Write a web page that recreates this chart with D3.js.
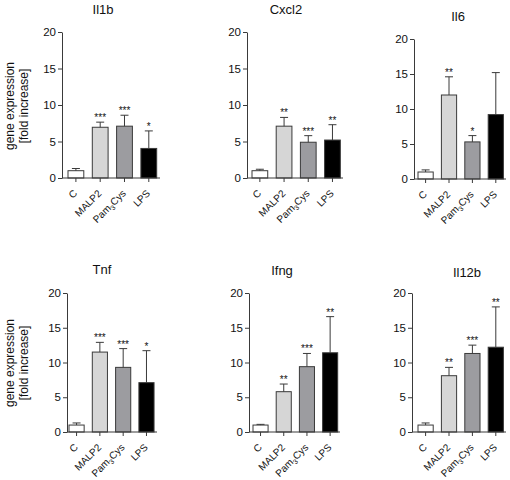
<!DOCTYPE html>
<html><head><meta charset="utf-8">
<script src="https://cdn.jsdelivr.net/npm/d3@7/dist/d3.min.js"></script>
<style>body{margin:0;background:#fff}svg{display:block}text{font-family:"Liberation Sans",Arial,sans-serif;fill:#111}</style>
</head><body><svg id="c" width="510" height="480"></svg>
<script>
// ---- data ----
const genes = ["Il1b", "Cxcl2", "Il6", "Tnf", "Ifng", "Il12b"];
const categories = ["C", "MALP2", "Pam3Cys", "LPS"];
const yTicks = [0, 5, 10, 15, 20];
const meanIl1b  = [1.0, 6.95, 7.1, 4.05];
const meanCxcl2 = [1.0, 7.1, 4.9, 5.2];
const meanIl6   = [1.0, 12.0, 5.3, 9.2];
const meanTnf   = [1.0, 11.5, 9.3, 7.1];
const meanIfng  = [1.0, 5.8, 9.4, 11.4];
const meanIl12b = [1.0, 8.1, 11.3, 12.2];
const errIl1b  = [0.3, 0.7, 1.5, 2.4];
const errCxcl2 = [0.2, 1.2, 0.9, 2.1];
const errIl6   = [0.3, 2.6, 0.9, 6.0];
const errTnf   = [0.3, 1.4, 2.7, 4.6];
const errIfng  = [0.1, 1.1, 1.9, 5.2];
const errIl12b = [0.3, 1.2, 1.2, 5.8];
const starsIl1b  = ["", "***", "***", "*"];
const starsCxcl2 = ["", "**", "***", "**"];
const starsIl6   = ["", "**", "*", ""];
const starsTnf   = ["", "***", "***", "*"];
const starsIfng  = ["", "**", "***", "**"];
const starsIl12b = ["", "**", "***", "**"];
const yLabel = ["gene expression", "[fold increase]"];

const means = [meanIl1b, meanCxcl2, meanIl6, meanTnf, meanIfng, meanIl12b];
const errs = [errIl1b, errCxcl2, errIl6, errTnf, errIfng, errIl12b];
const stars = [starsIl1b, starsCxcl2, starsIl6, starsTnf, starsIfng, starsIl12b];

// ---- layout ----
const layout = [
  {ax: 62,  bs: 68,  step: 24.3, y0: 178, y20: 32,  end: 160, tx: 103, ty: 14},
  {ax: 247, bs: 252, step: 24.2, y0: 178, y20: 32,  end: 343, tx: 286, ty: 14},
  {ax: 414, bs: 418, step: 23.4, y0: 179, y20: 39,  end: 506, tx: 458, ty: 21},
  {ax: 67,  bs: 69,  step: 23.3, y0: 432, y20: 293, end: 157, tx: 102, ty: 274},
  {ax: 249, bs: 253, step: 23.2, y0: 432, y20: 293, end: 340, tx: 282, ty: 275},
  {ax: 412, bs: 418, step: 23.4, y0: 432, y20: 293, end: 506, tx: 467, ty: 277}
];
const fills = ["#ffffff", "#d6d6d6", "#9c9ca0", "#000000"];
const ink = "#3a3a3a";

const svg = d3.select("#c");

genes.forEach((g, i) => {
  const L = layout[i];
  const y = d3.scaleLinear().domain([0, 20]).range([L.y0, L.y20]);
  const r0 = L.bs - L.step * 0.175;
  const x = d3.scaleBand().domain(categories).range([r0, r0 + 4 * L.step])
    .paddingInner(0.35).paddingOuter(0.175);
  const p = svg.append("g");

  // title
  p.append("text").attr("x", L.tx).attr("y", L.ty).attr("text-anchor", "middle")
    .attr("font-size", 13).text(g);

  // y axis
  const ya = p.append("g").attr("transform", `translate(${L.ax},0)`)
    .call(d3.axisLeft(y).tickValues(yTicks).tickSize(4).tickPadding(2).tickSizeOuter(0));
  ya.select(".domain").attr("stroke", ink);
  ya.selectAll(".tick line").attr("stroke", ink);
  ya.selectAll(".tick text").attr("font-size", 11.5).attr("fill", "#111")
    .attr("font-family", '"Liberation Sans",Arial,sans-serif');

  // bars
  p.selectAll("rect.bar").data(categories).enter().append("rect")
    .attr("x", c => x(c)).attr("width", x.bandwidth())
    .attr("y", (c, j) => y(means[i][j])).attr("height", (c, j) => y(0) - y(means[i][j]))
    .attr("fill", (c, j) => fills[j]).attr("stroke", ink).attr("stroke-width", 1);

  // error bars (upper only) and significance stars
  categories.forEach((c, j) => {
    const cx = x(c) + x.bandwidth() / 2;
    const top = y(means[i][j] + errs[i][j]);
    p.append("line").attr("x1", cx).attr("x2", cx).attr("y1", y(means[i][j])).attr("y2", top)
      .attr("stroke", ink);
    p.append("line").attr("x1", cx - 4).attr("x2", cx + 4).attr("y1", top).attr("y2", top)
      .attr("stroke", ink);
    if (stars[i][j]) {
      p.append("text").attr("x", cx).attr("y", top - 1).attr("text-anchor", "middle")
        .attr("font-size", 10).text(stars[i][j]);
    }
  });

  // x axis
  p.append("line").attr("x1", L.ax).attr("x2", L.end).attr("y1", y(0)).attr("y2", y(0))
    .attr("stroke", ink);
  categories.forEach(c => {
    const cx = x(c) + x.bandwidth() / 2;
    p.append("line").attr("x1", cx).attr("x2", cx).attr("y1", y(0)).attr("y2", y(0) + 4)
      .attr("stroke", ink);
    const t = p.append("text").attr("text-anchor", "end").attr("font-size", 10)
      .attr("transform", `translate(${cx + 2},${y(0) + 16}) rotate(-45)`);
    if (c === "Pam3Cys") {
      t.append("tspan").text("Pam");
      t.append("tspan").attr("font-size", 7).attr("dy", 2.5).text("3");
      t.append("tspan").attr("dy", -2.5).text("Cys");
    } else t.text(c);
  });

  // y label for leftmost panels
  if (i === 0 || i === 3) {
    const cy = i === 0 ? 106 : 363;
    yLabel.forEach((s, k) => {
      p.append("text").attr("text-anchor", "middle").attr("font-size", 12)
        .attr("transform", `translate(${14 + k * 14},${cy}) rotate(-90)`).text(s);
    });
  }
});
</script></body></html>
